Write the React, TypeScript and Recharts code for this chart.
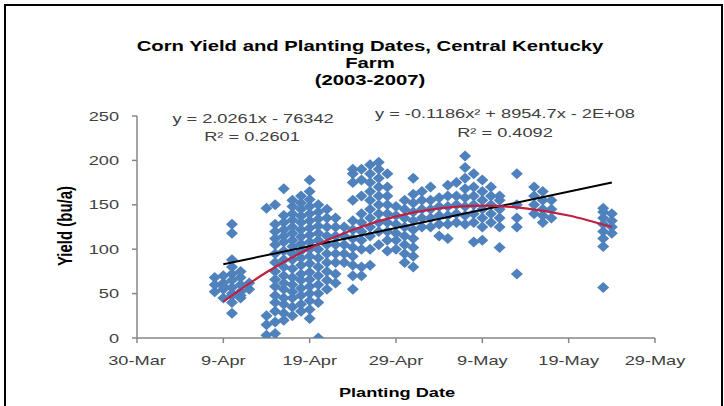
import React from "react";
import { ComposedChart, Scatter, Line, XAxis, YAxis } from "recharts";

// x = days after 30-Mar
const xTickDays = [0, 10, 20, 30, 40, 50, 60];
const xTickLabels = ["30-Mar", "9-Apr", "19-Apr", "29-Apr", "9-May", "19-May", "29-May"];
const yTicks = [0, 50, 100, 150, 200, 250];

const plantingDays = [9, 10, 11, 12, 13, 15, 16, 17, 18, 19, 20, 21, 22, 23, 24, 25, 26, 27, 28, 29, 30, 31, 32, 33, 34, 35, 36, 37, 38, 39, 40, 41, 42, 44, 46, 47, 48, 54, 55];
const yieldsByDay: number[][] = [
  [52, 60, 68],
  [45, 55, 62, 70, 58],
  [118, 128, 88, 80, 72, 65, 57, 50, 48, 40, 28],
  [52, 60, 68, 75, 45, 48],
  [55, 62],
  [3, 15, 25, 146],
  [5, 18, 30, 40, 48, 58, 66, 75, 85, 95, 105, 112, 120, 128, 150],
  [20, 28, 38, 45, 55, 62, 70, 80, 88, 98, 108, 115, 122, 130, 138, 168],
  [25, 35, 45, 52, 60, 68, 78, 88, 95, 103, 110, 118, 125, 133, 140, 148, 155],
  [30, 38, 48, 56, 65, 72, 82, 90, 98, 106, 114, 122, 130, 137, 145, 152, 160],
  [22, 32, 42, 50, 58, 66, 74, 84, 92, 100, 108, 116, 124, 132, 140, 148, 156, 165, 178],
  [0, 40, 50, 60, 70, 80, 90, 100, 110, 118, 126, 134, 142, 150],
  [55, 65, 75, 85, 95, 105, 115, 125, 135, 145],
  [62, 72, 85, 95, 105, 115, 125, 135],
  [85, 95, 105, 115, 125],
  [55, 70, 82, 92, 102, 112, 122, 132, 155, 175, 185, 190],
  [70, 80, 100, 110, 120, 130, 140, 160, 178, 190],
  [82, 100, 115, 125, 135, 145, 155, 165, 175, 185, 195],
  [105, 120, 130, 140, 150, 160, 170, 180, 190, 198],
  [98, 110, 120, 130, 140, 150, 160, 170, 185],
  [100, 110, 118, 128, 138, 148],
  [85, 95, 105, 115, 125, 135, 145, 155],
  [80, 92, 102, 112, 122, 132, 142, 152, 162, 180],
  [125, 135, 145, 155, 165],
  [125, 135, 145, 155, 170],
  [115, 128, 138, 148, 158],
  [112, 128, 138, 148, 160, 172],
  [130, 140, 150, 160, 175],
  [128, 138, 148, 158, 168, 180, 192, 205],
  [108, 130, 140, 150, 160, 170, 185],
  [110, 125, 135, 145, 155, 165, 178],
  [130, 140, 150, 160, 170],
  [102, 125, 135, 145, 155, 160],
  [72, 125, 135, 150, 185],
  [140, 150, 160, 170],
  [130, 138, 145, 155, 165],
  [135, 145, 155],
  [57, 103, 112, 120, 128, 135, 142, 146],
  [118, 125, 132, 140],
];

// trendlines
const linearTrendDays = [10, 55];
const linearTrendYields = [83, 175];
const polyTrendDays = [10, 15, 20, 25, 30, 35, 40, 45, 50, 55];
const polyTrendYields = [41, 74, 101, 122, 137, 146, 149, 146, 138, 125];

const scatterData = plantingDays.flatMap((d, i) => yieldsByDay[i].map((v) => ({ x: d, y: v })));
const linearData = linearTrendDays.map((d, i) => ({ x: d, y: linearTrendYields[i] }));
const polyData = polyTrendDays.map((d, i) => ({ x: d, y: polyTrendYields[i] }));

const FONT = "'Liberation Sans', Arial, sans-serif";
const SX = 1.4;
const AXIS = "#868686";

const Diamond = (props: any) => {
  const { cx, cy } = props;
  if (cx == null || cy == null) return null;
  const w = 6, h = 5.5;
  return <path d={`M${cx},${cy - h}L${cx + w},${cy}L${cx},${cy + h}L${cx - w},${cy}Z`} fill="#4F81BD" />;
};

const YTick = (props: any) => {
  const { x, y, payload } = props;
  return (
    <g transform={`translate(${x},${y})`}>
      <text transform={`scale(${SX},1)`} textAnchor="end" dy="0.36em" fontSize={13} fontFamily={FONT} fill="#404040">
        {payload.value}
      </text>
    </g>
  );
};

const XTick = (props: any) => {
  const { x, payload } = props;
  const idx = xTickDays.indexOf(payload.value);
  return (
    <g transform={`translate(${x},365)`}>
      <text transform={`scale(${SX},1)`} textAnchor="middle" fontSize={13} fontFamily={FONT} fill="#404040">
        {xTickLabels[idx]}
      </text>
    </g>
  );
};

const T = ({ x, y, size, bold, children }: any) => (
  <g transform={`translate(${x},${y}) scale(${SX},1)`}>
    <text textAnchor="middle" fontSize={size} fontWeight={bold ? "bold" : "normal"} fontFamily={FONT} fill={bold ? "#000" : "#404040"}>
      {children}
    </text>
  </g>
);

export default function App() {
  const lineProps: any = { zIndex: 900 };
  return (
    <div style={{ position: "fixed", left: 0, top: 0, width: 724, height: 406, overflow: "hidden", background: "#fff" }}>
      <div style={{ position: "absolute", left: 4, top: 4, width: 715, height: 500, border: "2px solid #000" }} />
      <div style={{ position: "absolute", left: 0, top: 0 }}>
        <ComposedChart width={724} height={406} margin={{ top: 116, right: 69, bottom: 38, left: 77 }}>
          <XAxis
            type="number"
            dataKey="x"
            domain={[0, 60]}
            ticks={xTickDays}
            interval={0}
            height={30}
            tickSize={5}
            tick={<XTick />}
            axisLine={{ stroke: AXIS, strokeWidth: 1.5 }}
            tickLine={{ stroke: AXIS, strokeWidth: 1.5 }}
            allowDataOverflow
          />
          <YAxis
            type="number"
            dataKey="y"
            domain={[0, 250]}
            ticks={yTicks}
            interval={0}
            width={60}
            tickSize={5}
            tickMargin={13}
            tick={<YTick />}
            axisLine={{ stroke: AXIS, strokeWidth: 1.5 }}
            tickLine={{ stroke: AXIS, strokeWidth: 1.5 }}
            allowDataOverflow
          />
          <Scatter data={scatterData} dataKey="y" shape={<Diamond />} isAnimationActive={false} />
          <Line {...lineProps} data={linearData} dataKey="y" type="linear" stroke="#000" strokeWidth={2} dot={false} isAnimationActive={false} />
          <Line {...lineProps} data={polyData} dataKey="y" type="monotone" stroke="#C0203F" strokeWidth={2.2} dot={false} isAnimationActive={false} />
        </ComposedChart>
      </div>
      <svg width={724} height={406} style={{ position: "absolute", left: 0, top: 0, pointerEvents: "none" }}>
        <T x={370} y={51} size={14.5} bold>Corn Yield and Planting Dates, Central Kentucky</T>
        <T x={370} y={68} size={14.5} bold>Farm</T>
        <T x={370} y={85} size={14.5} bold>(2003-2007)</T>
        <T x={253} y={123} size={13}>y = 2.0261x - 76342</T>
        <T x={252} y={141} size={13}>R² = 0.2601</T>
        <T x={505} y={118} size={13}>y = -0.1186x² + 8954.7x - 2E+08</T>
        <T x={505} y={137} size={13}>R² = 0.4092</T>
        <T x={397} y={397} size={13} bold>Planting Date</T>
        <g transform="translate(72,226) scale(1.4,1) rotate(-90)">
          <text textAnchor="middle" fontSize={15} fontWeight="bold" fontFamily={FONT} fill="#000">Yield (bu/a)</text>
        </g>
      </svg>
    </div>
  );
}
